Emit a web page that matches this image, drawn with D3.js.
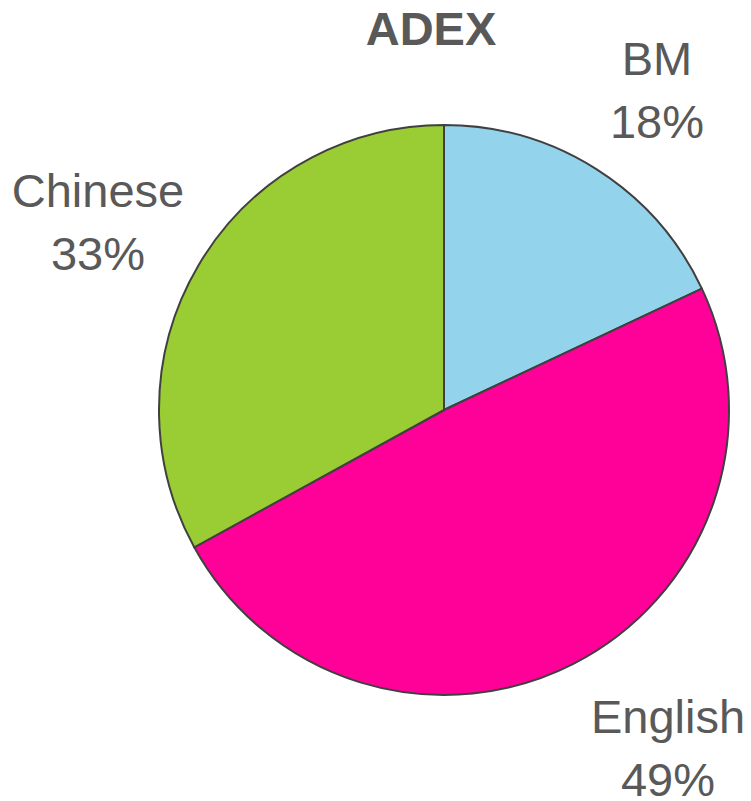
<!DOCTYPE html>
<html>
<head>
<meta charset="utf-8">
<script src="https://cdn.jsdelivr.net/npm/d3@7"></script>
<style>
html,body{margin:0;padding:0;background:#fff;}
svg{display:block;}
</style>
</head>
<body>
<svg id="chart" width="751" height="801"></svg>
<script>
const categories = ["BM", "English", "Chinese"];
const values = [18, 49, 33];
const labels = ["18%", "49%", "33%"];
const colors = ["#93D4EC", "#FF0099", "#9ACD34"];
const title = "ADEX";

const svg = d3.select("#chart");
const cx = 444, cy = 410, r = 285;
const data = categories.map((c, i) => ({name: c, value: values[i], label: labels[i], color: colors[i]}));
const pie = d3.pie().value(d => d.value).sort(null);
const arc = d3.arc().innerRadius(0).outerRadius(r);

const g = svg.append("g").attr("transform", `translate(${cx},${cy})`);
g.selectAll("path").data(pie(data)).join("path")
  .attr("d", arc)
  .attr("fill", d => d.data.color)
  .attr("stroke", "#404040")
  .attr("stroke-width", 2)
  .attr("stroke-linejoin", "round");

svg.append("text")
  .attr("x", 431).attr("y", 45)
  .attr("text-anchor", "middle")
  .attr("font-family", "Liberation Sans, Arial, sans-serif")
  .attr("font-weight", "bold")
  .attr("font-size", 47)
  .attr("fill", "#595959")
  .text(title);

const labelPos = {BM: [657, 75], English: [668, 733], Chinese: [98, 207]};
data.forEach(d => {
  const [x, y] = labelPos[d.name];
  const t = svg.append("text")
    .attr("text-anchor", "middle")
    .attr("font-family", "Liberation Sans, Arial, sans-serif")
    .attr("font-size", 47)
    .attr("fill", "#595959");
  t.append("tspan").attr("x", x).attr("y", y).text(d.name);
  t.append("tspan").attr("x", x).attr("y", y + 63).text(d.label);
});
</script>
</body>
</html>
